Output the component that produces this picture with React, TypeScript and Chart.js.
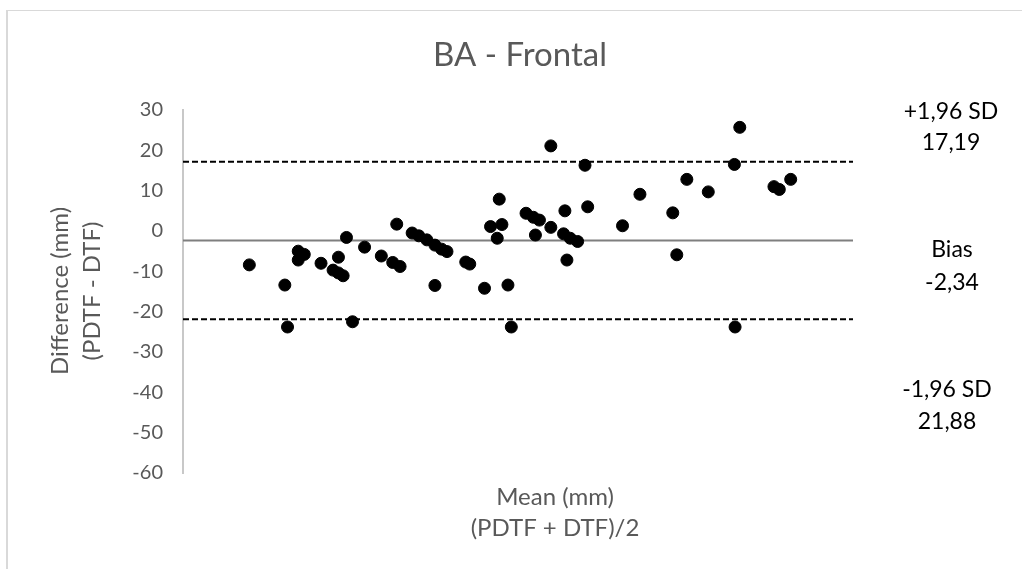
import React, { useEffect, useRef } from "react";
import { Chart, registerables } from "chart.js";

Chart.register(...registerables);

// Mean of the two methods (x, arbitrary mm scale, axis not labelled in the source)
const meanValues = [
  9.9, 15.2, 15.6, 17.2, 18.1, 17.2, 20.6, 23.2, 22.4, 23.2, 23.9, 24.4, 25.3, 27.1, 29.6,
  31.3, 32.4, 31.9, 34.2, 35.2, 36.4, 37.6, 38.6, 39.4, 37.6, 42.2, 42.8, 45.0, 45.9, 47.6,
  46.9, 47.2, 48.5, 49.0, 51.2, 52.3, 53.2, 52.6, 54.9, 54.9, 57.0, 56.8, 57.8, 58.9, 57.3,
  60.0, 60.4, 65.6, 68.2, 73.1, 73.7, 75.2, 78.4, 82.3, 83.1, 82.4, 88.2, 89.0, 90.7,
];
// Difference PDTF - DTF (mm)
const diffValues = [
  -8.4, -13.4, -23.8, -5.0, -5.8, -7.2, -8.0, -6.5, -9.7, -10.4, -11.1, -1.6, -22.5, -4.0, -6.2,
  -7.8, -8.8, 1.7, -0.5, -1.2, -2.2, -3.5, -4.5, -5.1, -13.5, -7.7, -8.2, -14.2, 1.1, 1.6,
  -1.8, 7.9, -13.4, -23.8, 4.4, 3.4, 2.7, -1.0, 0.9, 21.1, 5.0, -0.7, -1.8, -2.6, -7.2,
  16.3, 6.0, 1.3, 9.1, 4.5, -5.9, 12.8, 9.7, 16.5, 25.7, -23.8, 11.0, 10.3, 12.8,
];

const bias = -2.34;
const upperLimit = 17.19;
const lowerLimit = -21.88;

const xRange = [0, 100];
const yRange = [-60, 30];
const yStep = 10;

const chartTitle = "BA - Frontal";
const yTitleLines = ["Difference (mm)", "(PDTF - DTF)"];
const xTitleLines = ["Mean (mm)", "(PDTF + DTF)/2"];
const sideLabels = ["+1,96 SD", "17,19", "Bias", "-2,34", "-1,96 SD", "21,88"];

const GRAY = "#595959";
const FONT = "Lato, 'Open Sans', sans-serif";

const textPlugin = {
  id: "baTexts",
  afterDraw(chart: any) {
    const ctx = chart.ctx as CanvasRenderingContext2D;
    ctx.save();
    // title
    ctx.fillStyle = GRAY;
    ctx.textAlign = "center";
    ctx.textBaseline = "middle";
    ctx.font = `33px ${FONT}`;
    ctx.fillText(chartTitle, 520, 55);

    // y title (rotated)
    ctx.font = `24px ${FONT}`;
    const yMid = 291;
    const yTitleX = [60, 92];
    yTitleLines.forEach((t, i) => {
      ctx.save();
      ctx.translate(yTitleX[i], yMid);
      ctx.rotate(-Math.PI / 2);
      ctx.fillText(t, 0, 0);
      ctx.restore();
    });

    // x title
    const xTitleY = [497, 528];
    xTitleLines.forEach((t, i) => {
      ctx.fillText(t, 555, xTitleY[i]);
    });

    // side labels
    ctx.fillStyle = "#000000";
    ctx.font = `23px ${FONT}`;
    const sideX = [951, 951, 952, 952, 947, 947];
    const sideY = [112, 143, 250, 283, 390, 422];
    sideLabels.forEach((t, i) => ctx.fillText(t, sideX[i], sideY[i]));
    ctx.restore();
  },
};

export default function App() {
  const canvasRef = useRef<HTMLCanvasElement | null>(null);

  useEffect(() => {
    const canvas = canvasRef.current;
    if (!canvas) return;
    const points = meanValues.map((x, i) => ({ x, y: diffValues[i] }));
    const hLine = (v: number) => [
      { x: xRange[0], y: v },
      { x: xRange[1], y: v },
    ];
    const chart = new Chart(canvas, {
      type: "scatter",
      data: {
        datasets: [
          {
            type: "scatter",
            label: "Differences",
            data: points,
            pointRadius: 6,
            pointBorderWidth: 1,
            backgroundColor: "#000000",
            borderColor: "#000000",
          },
          {
            type: "line",
            label: "Bias",
            data: hLine(bias),
            borderColor: "#7f7f7f",
            borderWidth: 2,
            pointRadius: 0,
            fill: false,
          },
          {
            type: "line",
            label: "+1,96 SD",
            data: hLine(upperLimit),
            borderColor: "#000000",
            borderWidth: 2,
            borderDash: [6, 3],
            pointRadius: 0,
            fill: false,
          },
          {
            type: "line",
            label: "-1,96 SD",
            data: hLine(lowerLimit),
            borderColor: "#000000",
            borderWidth: 2,
            borderDash: [6, 3],
            pointRadius: 0,
            fill: false,
          },
        ],
      } as any,
      options: {
        animation: false,
        responsive: false,
        devicePixelRatio: 1,
        layout: { padding: { top: 110, bottom: 96, left: 0, right: 169 } },
        plugins: {
          legend: { display: false },
          tooltip: { enabled: false },
          title: { display: false },
        },
        scales: {
          x: {
            type: "linear",
            min: xRange[0],
            max: xRange[1],
            display: false,
          },
          y: {
            type: "linear",
            min: yRange[0],
            max: yRange[1],
            afterFit: (scale: any) => {
              scale.width = 183;
            },
            grid: { display: false, drawTicks: false },
            border: { display: true, color: "#c8c8c8", width: 2 },
            ticks: {
              stepSize: yStep,
              padding: 20,
              color: GRAY,
              font: { family: FONT, size: 20 },
            },
          },
        },
      } as any,
      plugins: [textPlugin],
    });
    return () => chart.destroy();
  }, []);

  return (
    <div
      style={{
        position: "absolute",
        left: 0,
        top: 0,
        width: 1022,
        height: 569,
        background: "#ffffff",
        overflow: "hidden",
      }}
    >
      <div
        style={{
          position: "absolute",
          left: 6,
          top: 10,
          width: 1100,
          height: 700,
          borderLeft: "2px solid #d9d9d9",
          borderTop: "1px solid #d9d9d9",
        }}
      />
      <canvas
        ref={canvasRef}
        width={1022}
        height={569}
        style={{ position: "absolute", left: 0, top: 0, width: 1022, height: 569 }}
      />
    </div>
  );
}
